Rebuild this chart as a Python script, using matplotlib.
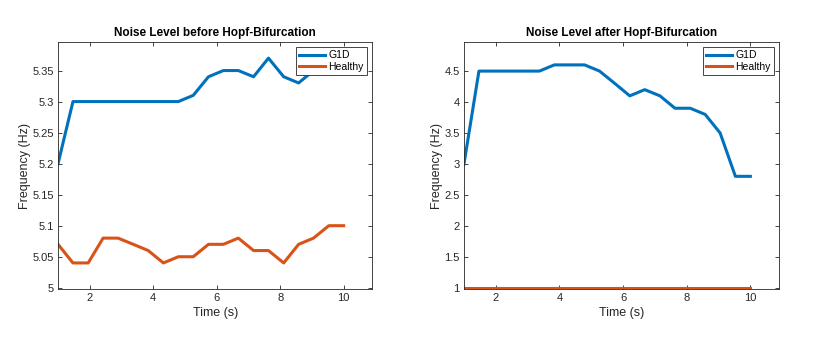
import matplotlib
matplotlib.use("Agg")
import matplotlib.pyplot as plt

plt.rcParams['font.family'] = ['Liberation Sans', 'DejaVu Sans']

# sample times (s)
time_s = [1.00, 1.47, 1.95, 2.42, 2.89, 3.37, 3.84, 4.32, 4.79, 5.26,
          5.74, 6.21, 6.68, 7.16, 7.63, 8.11, 8.58, 9.05, 9.53, 10.00]

# before Hopf-bifurcation
g1d_before = [5.20, 5.30, 5.30, 5.30, 5.30, 5.30, 5.30, 5.30, 5.30, 5.31,
              5.34, 5.35, 5.35, 5.34, 5.37, 5.34, 5.33, 5.35, 5.36, 5.36]
healthy_before = [5.07, 5.04, 5.04, 5.08, 5.08, 5.07, 5.06, 5.04, 5.05, 5.05,
                  5.07, 5.07, 5.08, 5.06, 5.06, 5.04, 5.07, 5.08, 5.10, 5.10]

# after Hopf-bifurcation
g1d_after = [3.0, 4.5, 4.5, 4.5, 4.5, 4.5, 4.6, 4.6, 4.6, 4.5,
             4.3, 4.1, 4.2, 4.1, 3.9, 3.9, 3.8, 3.5, 2.8, 2.8]
healthy_after = [1.0, 1.0, 1.0, 1.0, 1.0, 1.0, 1.0, 1.0, 1.0, 1.0,
                 1.0, 1.0, 1.0, 1.0, 1.0, 1.0, 1.0, 1.0, 1.0, 1.0]

before_yticks = [5, 5.05, 5.1, 5.15, 5.2, 5.25, 5.3, 5.35]
before_ylabels = ['5', '5.05', '5.1', '5.15', '5.2', '5.25', '5.3', '5.35']
after_yticks = [1, 1.5, 2, 2.5, 3, 3.5, 4, 4.5]
after_ylabels = ['1', '1.5', '2', '2.5', '3', '3.5', '4', '4.5']
xticks = [2, 4, 6, 8, 10]

blue = '#0072BD'
orange = '#D95319'
text_col = '#262626'

fig = plt.figure(figsize=(8.14, 3.37), dpi=100)
ax1 = fig.add_axes([0.0713, 0.1424, 0.386, 0.733])
ax2 = fig.add_axes([0.570, 0.1424, 0.387, 0.733])

panels = [
    (ax1, g1d_before, healthy_before, 'Noise Level before Hopf-Bifurcation',
     (4.998, 5.396), before_yticks, before_ylabels),
    (ax2, g1d_after, healthy_after, 'Noise Level after Hopf-Bifurcation',
     (0.98, 4.97), after_yticks, after_ylabels),
]

for ax, g1d, healthy, title, ylim, yt, yl in panels:
    ax.plot(time_s, g1d, color=blue, lw=2.2, label='G1D')
    ax.plot(time_s, healthy, color=orange, lw=2.2, label='Healthy')
    ax.set_xlim(1, 10.9)
    ax.set_ylim(*ylim)
    ax.set_xticks(xticks)
    ax.set_yticks(yt)
    ax.set_yticklabels(yl)
    ax.tick_params(direction='in', top=True, right=True, length=3,
                   width=0.6, labelsize=8, colors=text_col, pad=3)
    for sp in ax.spines.values():
        sp.set_linewidth(0.6)
        sp.set_color(text_col)
    ax.set_title(title, fontsize=8.5, fontweight='bold', color='black', pad=4)
    ax.set_xlabel('Time (s)', fontsize=9, color=text_col, labelpad=3)
    ax.set_ylabel('Frequency (Hz)', fontsize=9, color=text_col, labelpad=1)
    leg = ax.legend(loc='upper right', fontsize=7.5, handlelength=2.5,
                    handletextpad=0.3, borderpad=0.3, labelspacing=0.15,
                    fancybox=False, framealpha=1, borderaxespad=0.5)
    leg.get_frame().set_edgecolor(text_col)
    leg.get_frame().set_linewidth(0.6)

fig.savefig('out.png', dpi=100)
